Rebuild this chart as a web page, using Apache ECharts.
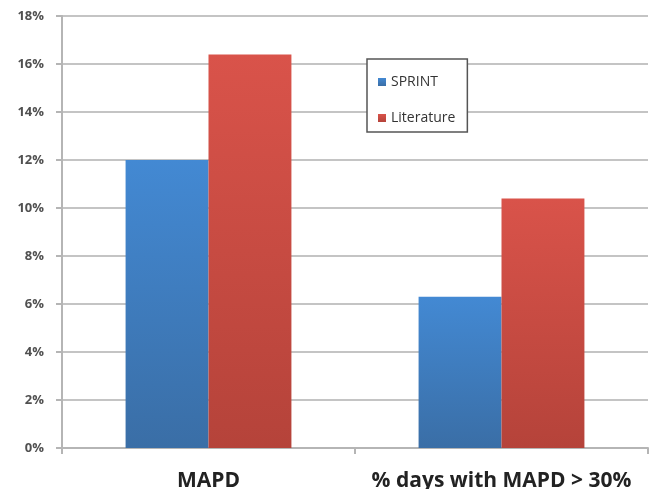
<!DOCTYPE html>
<html>
<head>
<meta charset="utf-8">
<script src="https://cdn.jsdelivr.net/npm/echarts@6/dist/echarts.min.js"></script>
<style>
  html, body { margin: 0; padding: 0; background: #fff; }
  #main { width: 650px; height: 489px; }
</style>
</head>
<body>
<div id="main"></div>
<script>
var categories = ['MAPD', '% days with MAPD > 30%'];
var sprintValues = [12.0, 6.3];
var literatureValues = [16.4, 10.4];
var yTicks = [0, 2, 4, 6, 8, 10, 12, 14, 16, 18];

var chartDom = document.getElementById('main');
var myChart = echarts.init(chartDom);
var option;

function grad(top, bottom) {
    return new echarts.graphic.LinearGradient(0, 0, 0, 1, [
        { offset: 0, color: top },
        { offset: 1, color: bottom }
    ]);
}

option = {
    backgroundColor: '#fff',
    animation: false,
    grid: { left: 62, right: 2, top: 16, bottom: 41, outerBoundsMode: 'none' },
    legend: {
        orient: 'vertical',
        left: 367,
        top: 59,
        padding: [16, 12, 7, 11],
        itemGap: 22,
        itemWidth: 8,
        itemHeight: 8,
        icon: 'rect',
        backgroundColor: '#fff',
        borderColor: '#555',
        borderWidth: 1.5,
        textStyle: { fontFamily: 'Open Sans', fontSize: 14, color: '#333' },
        data: ['SPRINT', 'Literature']
    },
    xAxis: {
        type: 'category',
        data: categories,
        axisLine: { lineStyle: { color: '#b5b5b5', width: 2 } },
        axisTick: { show: true, length: 6, lineStyle: { color: '#b5b5b5', width: 2 } },
        axisLabel: {
            interval: 0,
            hideOverlap: false,
            margin: 23,
            fontFamily: 'Open Sans',
            fontWeight: 'bold',
            fontSize: 21,
            color: '#222'
        }
    },
    yAxis: {
        type: 'value',
        min: yTicks[0],
        max: yTicks[yTicks.length - 1],
        interval: 2,
        axisLine: { show: true, lineStyle: { color: '#b5b5b5', width: 2 } },
        axisTick: { show: true, inside: false, length: 6, lineStyle: { color: '#b5b5b5', width: 2 } },
        splitLine: { lineStyle: { color: '#b0b0b0', width: 1.5 } },
        axisLabel: {
            margin: 18,
            fontFamily: 'Open Sans',
            fontWeight: 'bold',
            fontSize: 13,
            color: '#505050',
            formatter: function (v) { return v + '%'; }
        }
    },
    series: [
        {
            name: 'SPRINT',
            type: 'bar',
            data: sprintValues,
            barWidth: '28.3%',
            barGap: '0%',
            itemStyle: { color: grad('#4389d3', '#3a6ea6') }
        },
        {
            name: 'Literature',
            type: 'bar',
            data: literatureValues,
            barWidth: '28.3%',
            itemStyle: { color: grad('#d9534a', '#b5433a') }
        }
    ]
};

option && myChart.setOption(option);
</script>
</body>
</html>
